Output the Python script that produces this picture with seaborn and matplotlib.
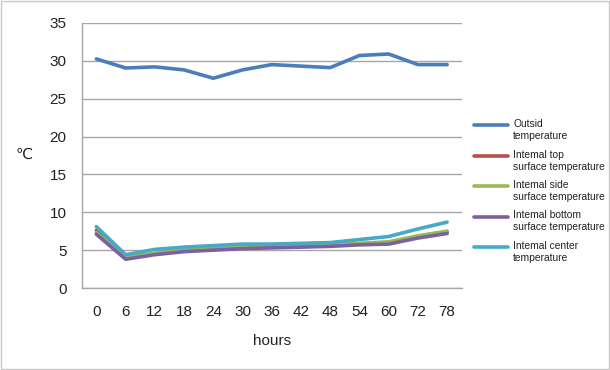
import matplotlib
matplotlib.use("Agg")
import matplotlib.pyplot as plt
from matplotlib.lines import Line2D
import seaborn as sns
import pandas as pd

hours = ["0", "6", "12", "18", "24", "30", "36", "42", "48", "54", "60", "72", "78"]
outside = [30.25, 29.05, 29.2, 28.8, 27.7, 28.8, 29.5, 29.3, 29.1, 30.7, 30.9, 29.5, 29.5]
top_surface = [7.6, 4.0, 4.5, 4.9, 5.1, 5.3, 5.4, 5.5, 5.6, 5.8, 6.0, 6.8, 7.45]
side_surface = [7.3, 4.1, 4.6, 5.0, 5.2, 5.4, 5.5, 5.6, 5.7, 5.9, 6.1, 6.9, 7.5]
bottom_surface = [7.1, 3.8, 4.4, 4.8, 5.0, 5.2, 5.3, 5.4, 5.5, 5.7, 5.8, 6.6, 7.2]
center = [8.1, 4.4, 5.1, 5.4, 5.6, 5.8, 5.8, 5.9, 6.0, 6.4, 6.8, 7.8, 8.7]

series_names = ["Outsid\ntemperature",
                "Intemal top\nsurface temperature",
                "Intemal side\nsurface temperature",
                "Intemal bottom\nsurface temperature",
                "Intemal center\ntemperature"]
series_values = [outside, top_surface, side_surface, bottom_surface, center]
colors = ["#4A7EBB", "#BE4B48", "#98B954", "#7D60A0", "#46AAC5"]

rows = []
for name, vals in zip(series_names, series_values):
    for h, v in zip(hours, vals):
        rows.append({"hours": h, "value": v, "series": name})
df = pd.DataFrame(rows)

sns.set_theme(style="white")
plt.rcParams["font.family"] = ["Liberation Sans", "DejaVu Sans"]

W, H = 610, 370
fig = plt.figure(figsize=(6.1, 3.7), dpi=100)
ax = fig.add_axes([0.134, 0.2216, 0.623, 0.7164])

sns.lineplot(data=df, x="hours", y="value", hue="series", palette=colors,
             hue_order=series_names, linewidth=2.6, ax=ax, legend=False,
             sort=False)

ax.set_xlim(-0.5, len(hours) - 0.5)
ax.set_ylim(0, 35)
ax.set_yticks([0, 5, 10, 15, 20, 25, 30, 35])
ax.yaxis.grid(True, color="#A6A6A6", linewidth=1.0)
ax.set_axisbelow(True)
for s in ["top", "right"]:
    ax.spines[s].set_visible(False)
ax.spines["left"].set_color("#A6A6A6")
ax.spines["bottom"].set_color("#A6A6A6")
ax.spines["left"].set_linewidth(1.0)
ax.spines["bottom"].set_linewidth(1.0)
ax.tick_params(axis="both", length=0, labelsize=11, colors="#222222")
ax.tick_params(axis="y", pad=11)
ax.tick_params(axis="x", pad=12)

ax.set_xlabel("hours", fontsize=11, color="#222222", labelpad=11)
ax.set_ylabel("")
fig.text(24 / W, 1 - 155 / H, "\u2103", fontsize=11, color="#222222",
         ha="center", va="center")

# legend: handle aligned with first text line (Excel style)
leg_y = [125, 155.5, 186, 216.5, 247]
for name, c, y in zip(series_names, colors, leg_y):
    fig.add_artist(Line2D([474 / W, 508 / W], [1 - y / H, 1 - y / H],
                          color=c, linewidth=2.6, transform=fig.transFigure))
    fig.text(513 / W, 1 - (y - 6) / H, name, fontsize=7.4, color="#222222",
             ha="left", va="top", linespacing=1.25)

border = plt.Rectangle((0.002, 0.003), 0.996, 0.994, transform=fig.transFigure,
                       fill=False, edgecolor="#C8C8C8", linewidth=1.0)
fig.patches.append(border)

fig.savefig("out.png", dpi=100)
